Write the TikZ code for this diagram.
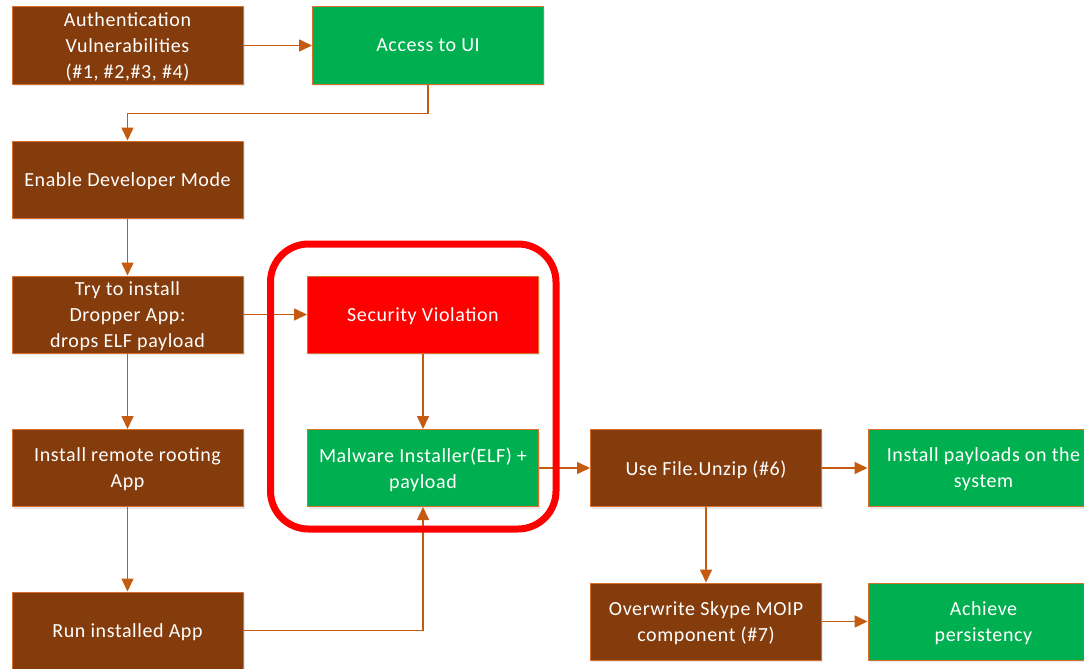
\documentclass[tikz,border=0pt]{standalone}
\usepackage{fontspec}
\setmainfont{Carlito}[LetterSpace=3]
\usetikzlibrary{arrows.meta,shadows}
\definecolor{brownbox}{HTML}{843C0C}
\definecolor{greenbox}{HTML}{00B050}
\definecolor{redbox}{HTML}{FF0000}
\definecolor{edge}{HTML}{C55A11}
\definecolor{rim}{HTML}{D9702E}
\tikzset{
  box/.style={draw=rim, line width=1pt, minimum width=231pt, minimum height=77pt,
    inner sep=0pt, align=center, text=white, text depth=0pt,
    font=\fontsize{20}{26}\selectfont,
    drop shadow={opacity=0.18, shadow xshift=1.5pt, shadow yshift=-2pt}},
  brownnode/.style={box, fill=brownbox},
  greennode/.style={box, fill=greenbox},
  rednode/.style={box, fill=redbox},
  conn/.style={draw=edge, line width=1.6pt, -{Triangle[length=13pt,width=12pt]}},
  ring/.style={draw=redbox, line width=7pt, rounded corners=38pt}
}
\begin{document}
\begin{tikzpicture}[x=1pt,y=1pt]
\useasboundingbox (0,0) rectangle (1084,-669);
\node[brownnode] (auth) at (127.5,-45.5) {Authentication\\Vulnerabilities\\(\#1, \#2,\#3, \#4)};
\node[greennode] (access) at (428,-45.5) {Access to UI};
\node[brownnode] (enable) at (127.5,-179.5) {Enable Developer Mode};
\node[brownnode] (try) at (127.5,-314.5) {Try to install\\Dropper App:\\drops ELF payload};
\node[rednode] (sec) at (423,-314.5) {Security Violation};
\node[brownnode] (remote) at (127.5,-468) {Install remote rooting\\App};
\node[greennode] (mal) at (423,-468) {Malware Installer(ELF) +\\payload};
\node[brownnode] (unzip) at (706,-468) {Use File.Unzip (\#6)};
\node[greennode] (payloads) at (983.5,-468) {Install payloads on the\\system};
\node[brownnode] (run) at (127.5,-630.5) {Run installed App};
\node[brownnode] (over) at (706,-621.5) {Overwrite Skype MOIP\\component (\#7)};
\node[greennode] (achieve) at (983.5,-621.5) {Achieve\\persistency};

\draw[conn] (auth) -- (access);
\draw[conn] (access.south) -- ++(0,-29) -| (enable.north);
\draw[conn] (enable) -- (try);
\draw[conn] (try) -- (sec);
\draw[conn] (try) -- (remote);
\draw[conn] (remote) -- (run);
\draw[conn] (sec) -- (mal);
\draw[conn] (run.east) -| (mal.south);
\draw[conn] (mal) -- (unzip);
\draw[conn] (unzip) -- (payloads);
\draw[conn] (unzip) -- (over);
\draw[conn] (over) -- (achieve);

\draw[ring] (270.5,-244) rectangle (556,-529);
\end{tikzpicture}
\end{document}
